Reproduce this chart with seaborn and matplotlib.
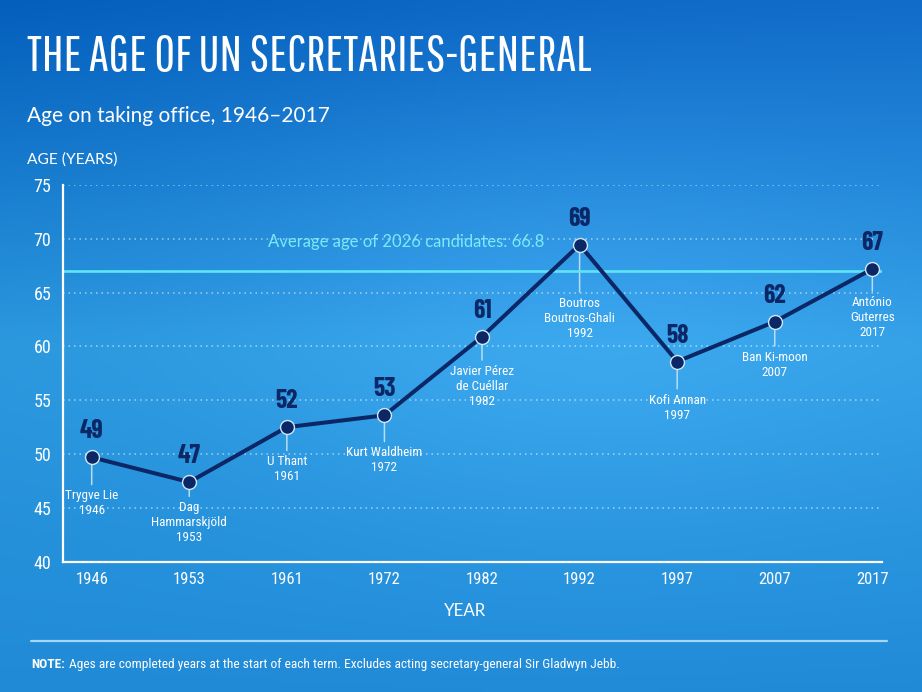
import numpy as np
import pandas as pd
import matplotlib
matplotlib.use("Agg")
import matplotlib.pyplot as plt
from matplotlib import font_manager
import seaborn as sns

# --- data ---
years = ["1946", "1953", "1961", "1972", "1982", "1992", "1997", "2007", "2017"]
names = ["Trygve Lie", "Dag\nHammarskjöld", "U Thant", "Kurt Waldheim",
         "Javier Pérez\nde Cuéllar", "Boutros\nBoutros-Ghali", "Kofi Annan",
         "Ban Ki-moon", "António\nGuterres"]
ages = [49.7, 47.4, 52.5, 53.6, 60.9, 69.45, 58.6, 62.3, 67.2]
age_labels = [49, 47, 52, 53, 61, 69, 58, 62, 67]
avg_line = 67.0
avg_text = "Average age of 2026 candidates: 66.8"

# leader length under each point (pixels) - layout only
leader = [29, 16, 25, 28, 25, 49, 29, 26, 24]

df = pd.DataFrame({"pos": np.arange(len(years)), "age": ages})

sns.set_style("white")
installed = {f.name for f in font_manager.fontManager.ttflist}


def pick(*cands):
    return next((c for c in cands if c in installed), "DejaVu Sans")


title_font = pick("Pathway Gothic One", "League Gothic", "Oswald")
num_font = pick("Barlow Condensed", "Roboto Condensed", "Oswald")
cond_font = pick("Roboto Condensed", "Barlow Semi Condensed", "Liberation Sans Narrow")
body = pick("Lato", "Open Sans")
plt.rcParams["font.family"] = [body, "DejaVu Sans"]

navy = "#0c2766"
white = "#ffffff"
cyan = "#5fe4f6"

W, H = 922, 692
fig = plt.figure(figsize=(W / 100, H / 100), dpi=100)


def fit(t, target):
    r = fig.canvas.get_renderer()
    w = t.get_window_extent(r).width
    t.set_fontsize(t.get_fontsize() * target / w)


# background gradient
bg = fig.add_axes([0, 0, 1, 1], zorder=-10)
yy, xx = np.mgrid[0:1:200j, 0:1:260j]
top = np.array([0x07, 0x62, 0xc0]) / 255
mid = np.array([0x2d, 0x9a, 0xe0]) / 255
bot = np.array([0x20, 0x8a, 0xd7]) / 255
t = np.clip(yy / 0.5, 0, 1)[..., None]
img = top * (1 - t) + mid * t
t2 = np.clip((yy - 0.5) / 0.5, 0, 1)[..., None]
img = img * (1 - t2) + bot * t2
glow = np.exp(-(((xx - 0.62) / 0.35) ** 2 + ((yy - 0.45) / 0.35) ** 2))[..., None]
img = img + glow * 0.05 + (xx[..., None] - 0.3) * 0.05 * (1 - yy[..., None])
img = np.clip(img, 0, 1)
bg.imshow(img, extent=[0, 1, 0, 1], aspect="auto", origin="upper")
bg.axis("off")

ax = fig.add_axes([63.3 / W, 130.3 / H, (881.7 - 63.3) / W, (561.7 - 185) / H])
ax.set_facecolor("none")

ax.axhline(avg_line, color=cyan, lw=1.9, zorder=1.5)

sns.lineplot(data=df, x="pos", y="age", ax=ax, color=navy, lw=2.9,
             marker="o", markersize=10, markerfacecolor=navy,
             markeredgecolor="#cfe8f8", markeredgewidth=1.0, zorder=3)

ax.set_xlim(-0.291, 8.096)
ax.set_ylim(40, 75)
ax.set_yticks(range(40, 80, 5))
ax.set_xticks(df["pos"], years)
for y in range(45, 80, 5):
    ax.axhline(y, color="white", alpha=0.55, lw=1.1, ls=(0, (1, 2.6)), zorder=0.5)

for s in ["top", "right"]:
    ax.spines[s].set_visible(False)
for s in ["left", "bottom"]:
    ax.spines[s].set_color(white)
    ax.spines[s].set_linewidth(1.6)
ax.tick_params(axis="both", colors=white, width=1.4, length=4.5, direction="out")
ax.tick_params(axis="y", labelsize=13, pad=4)
ax.tick_params(axis="x", labelsize=12, pad=3)
for lbl in ax.get_xticklabels() + ax.get_yticklabels():
    lbl.set_family([cond_font, "DejaVu Sans"])
ax.set_xlabel("")
ax.set_ylabel("")

for i, (a, lab, nm, yr) in enumerate(zip(ages, age_labels, names, years)):
    ax.annotate(str(lab), xy=(i, a), xytext=(0, 26), textcoords="offset pixels",
                ha="center", va="center", color=navy, fontsize=18.5,
                fontweight="bold", family=[num_font, "DejaVu Sans"], zorder=4)
    ax.annotate(nm + "\n" + yr, xy=(i, a), xytext=(0, -(leader[i] + 3)),
                textcoords="offset pixels", ha="center", va="top",
                color=white, fontsize=9.5, linespacing=1.2, zorder=1,
                family=[cond_font, "DejaVu Sans"],
                arrowprops=dict(arrowstyle="-", color="#b5def5", lw=1.1,
                                shrinkA=1, shrinkB=0))

avg = ax.text(3.22, 69.75, avg_text, ha="center", va="center", color="#7be9f7",
              fontsize=12.5, zorder=4)
fit(avg, 277)

# titles and notes
title = fig.text(27 / W, 1 - 57 / H, "THE AGE OF UN SECRETARIES-GENERAL", ha="left",
                 va="center", color=white, fontsize=40,
                 family=[title_font, "DejaVu Sans"])
fit(title, 566)
sub = fig.text(27 / W, 1 - 116 / H, "Age on taking office, 1946\u20132017", ha="left",
               va="center", color=white, fontsize=14.5)
fit(sub, 303)
ylab = fig.text(27 / W, 1 - 160 / H, "AGE (YEARS)", ha="left", va="center",
                color=white, fontsize=10)
fit(ylab, 90)
xlab = fig.text(465 / W, 1 - 611 / H, "YEAR", ha="center", va="center",
                color=white, fontsize=11)
fit(xlab, 42)

fig.add_artist(plt.Line2D([31 / W, 887 / W], [1 - 640.7 / H, 1 - 640.7 / H],
                          transform=fig.transFigure, color="#a6d6f3", lw=1.6))
note_rest = ("Ages are completed years at the start of each term. "
             "Excludes acting secretary-general Sir Gladwyn Jebb.")
probe = fig.text(0, 0, "NOTE: " + note_rest, fontsize=9,
                 family=[cond_font, "DejaVu Sans"])
fit(probe, 589)
note_size = probe.get_fontsize()
probe.remove()
note1 = fig.text(31 / W, 1 - 671 / H, "NOTE:", ha="left", va="bottom",
                 color=white, fontsize=note_size, fontweight="bold",
                 family=[cond_font, "DejaVu Sans"])
ax.annotate(note_rest, xy=(1, 0), xycoords=note1, xytext=(3, 0),
            textcoords="offset points", ha="left", va="bottom", color=white,
            fontsize=note_size, family=[cond_font, "DejaVu Sans"],
            annotation_clip=False)

fig.savefig("out.png", dpi=100)
